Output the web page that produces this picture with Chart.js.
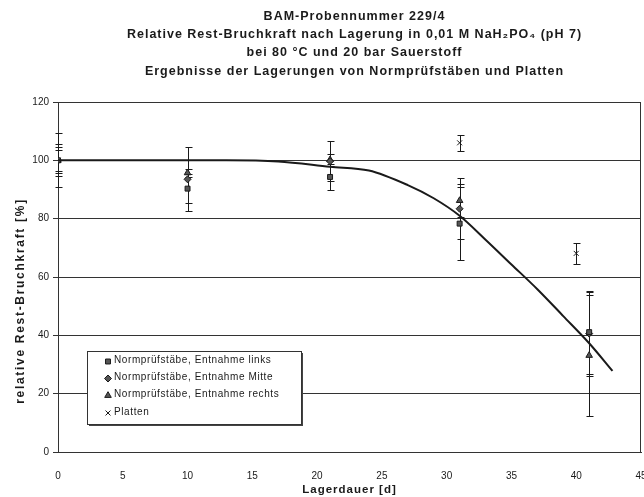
<!DOCTYPE html>
<html lang="de">
<head>
<meta charset="UTF-8">
<title>BAM-Probennummer 229/4</title>
<style>
  html, body { margin: 0; padding: 0; background: #fff; }
  #wrap { position: relative; width: 644px; height: 497px; }
</style>
</head>
<body>
<div id="wrap"><canvas id="chart"></canvas></div>

<script src="https://cdn.jsdelivr.net/npm/chart.js"></script>
<script>
  // Titelzeilen
  const titleLines = [
    'BAM-Probennummer 229/4',
    'Relative Rest-Bruchkraft nach Lagerung in 0,01 M NaH\u2082PO\u2084 (pH 7)',
    'bei 80 °C und 20 bar Sauerstoff',
    'Ergebnisse der Lagerungen von Normprüfstäben und Platten'
  ];
  const xTitle = 'Lagerdauer [d]';
  const yTitle = 'relative Rest-Bruchkraft [%]';

  // Messwerte (Tage, Mittelwert, Streuung +/-)
  const daysLinks = [0, 10, 21, 31, 41];
  const valLinks  = [100, 90.3, 94.3, 78.3, 41.1];
  const errLinks  = [9.3, 4.9, 4.6, 12.5, 14.2];

  const daysMitte = [0, 10, 21, 31, 41];
  const valMitte  = [100, 93.5, 99.7, 83.4, 40.6];
  const errMitte  = [5.5, 11, 6.8, 10.5, 14.4];

  const daysRechts = [0, 10, 21, 31, 41];
  const valRechts  = [100, 95.7, 100.2, 86.2, 33.1];
  const errRechts  = [4.5, 1.5, 2, 5.7, 20.8];

  const daysPlatten = [0, 31, 40];
  const valPlatten  = [100, 106, 68.1];
  const errPlatten  = [3.6, 2.7, 3.6];

  // Ausgleichskurve
  const fitDays = [0, 5, 10, 13, 17, 21, 24, 27, 29, 31, 33, 35, 37, 39, 41, 42.8];
  const fitVals = [100, 100, 100, 100, 99.6, 97.8, 96.5, 91.5, 87, 81, 72.8, 64.3, 55.8, 46.6, 37.3, 27.8];

  const xTicks = [0, 5, 10, 15, 20, 25, 30, 35, 40, 45];
  const yTicks = [0, 20, 40, 60, 80, 100, 120];

  const legendLabels = [
    'Normprüfstäbe, Entnahme links',
    'Normprüfstäbe, Entnahme Mitte',
    'Normprüfstäbe, Entnahme rechts',
    'Platten'
  ];

  const FONT = '"Liberation Sans", Arial, sans-serif';
  const INK = '#1a1a1a';

  const toPts = (xs, ys) => xs.map((x, i) => ({ x, y: ys[i] }));

  function seriesSet(label, xs, ys, errs, style, radius) {
    return {
      type: 'scatter',
      label,
      data: toPts(xs, ys),
      err: errs,
      pointStyle: style,
      pointRadius: radius,
      pointHoverRadius: radius,
      pointBackgroundColor: '#555',
      pointBorderColor: INK,
      pointBorderWidth: 1
    };
  }

  // Fehlerbalken über die Skalen zeichnen
  const errorBars = {
    id: 'errorBars',
    beforeDatasetsDraw(chart) {
      const { ctx, scales: { x, y } } = chart;
      ctx.save();
      ctx.strokeStyle = INK;
      ctx.lineWidth = 1;
      chart.data.datasets.forEach(ds => {
        if (!ds.err) return;
        ds.data.forEach((p, i) => {
          const px = Math.round(x.getPixelForValue(p.x)) + 0.5;
          const top = Math.round(y.getPixelForValue(p.y + ds.err[i])) + 0.5;
          const bot = Math.round(y.getPixelForValue(p.y - ds.err[i])) + 0.5;
          ctx.beginPath();
          ctx.moveTo(px, top); ctx.lineTo(px, bot);
          ctx.moveTo(px - 3, top); ctx.lineTo(px + 4, top);
          ctx.moveTo(px - 3, bot); ctx.lineTo(px + 4, bot);
          ctx.stroke();
        });
      });
      ctx.restore();
    }
  };

  // Titel, Achsentitel, Rahmen und Legende
  const decor = {
    id: 'decor',
    afterDraw(chart) {
      const { ctx, chartArea: a } = chart;
      const cx = (a.left + a.right) / 2;
      ctx.save();
      ctx.fillStyle = INK;
      ctx.textAlign = 'center';
      ctx.textBaseline = 'middle';
      ctx.font = 'bold 12.5px ' + FONT;
      ctx.letterSpacing = '1px';
      [17, 35, 53, 72].forEach((ty, i) => ctx.fillText(titleLines[i], cx + 5, ty));

      ctx.font = 'bold 11.5px ' + FONT;
      ctx.letterSpacing = '1px';
      ctx.fillText(xTitle, cx, 490);
      ctx.save();
      ctx.translate(21, 301);
      ctx.rotate(-Math.PI / 2);
      ctx.font = 'bold 12px ' + FONT;
      ctx.letterSpacing = '1.7px';
      ctx.fillText(yTitle, 0, 0);
      ctx.restore();
      ctx.letterSpacing = '0px';

      // Rahmen rechts
      ctx.strokeStyle = '#333';
      ctx.lineWidth = 1;
      ctx.beginPath();
      ctx.moveTo(Math.round(a.right) - 0.5, a.top);
      ctx.lineTo(Math.round(a.right) - 0.5, a.bottom);
      ctx.stroke();

      // Legende
      const lx = 87, ly = 351, lw = 214, lh = 73;
      ctx.fillStyle = '#fff';
      ctx.fillRect(lx, ly, lw, lh);
      ctx.strokeRect(lx + 0.5, ly + 0.5, lw, lh);
      ctx.fillStyle = '#444';
      ctx.fillRect(lx + 2, ly + lh + 1, lw, 1);
      ctx.fillRect(lx + lw + 1, ly + 2, 1, lh);

      const sets = chart.data.datasets.filter(d => d.err);
      ctx.textAlign = 'left';
      ctx.font = '10px ' + FONT;
      ctx.letterSpacing = '0.6px';
      [360.5, 377.5, 394.5, 412].forEach((ry, i) => {
        const ds = sets[i];
        ctx.fillStyle = ds.pointBackgroundColor;
        ctx.strokeStyle = ds.pointBorderColor;
        ctx.lineWidth = 1;
        Chart.helpers.drawPoint(ctx, { pointStyle: ds.pointStyle, radius: ds.pointRadius, borderWidth: 1, rotation: 0 }, 108, ry + 1);
        ctx.fillStyle = INK;
        ctx.fillText(legendLabels[i], 114, ry);
      });
      ctx.restore();
    }
  };

  new Chart(document.getElementById('chart'), {
    data: {
      datasets: [
        {
          type: 'line',
          label: 'Ausgleich',
          data: toPts(fitDays, fitVals),
          borderColor: INK,
          borderWidth: 2,
          pointRadius: 0,
          pointHoverRadius: 0,
          cubicInterpolationMode: 'monotone',
          fill: false
        },
        seriesSet(legendLabels[0], daysLinks, valLinks, errLinks, 'rect', 3.5),
        seriesSet(legendLabels[1], daysMitte, valMitte, errMitte, 'rectRot', 3.5),
        seriesSet(legendLabels[2], daysRechts, valRechts, errRechts, 'triangle', 3.8),
        seriesSet(legendLabels[3], daysPlatten, valPlatten, errPlatten, 'crossRot', 3.5)
      ]
    },
    options: {
      responsive: true,
      maintainAspectRatio: false,
      animation: false,
      layout: { autoPadding: false, padding: { top: 102, right: 3, left: 0, bottom: 0 } },
      plugins: {
        legend: { display: false },
        title: { display: false },
        tooltip: { enabled: false }
      },
      scales: {
        x: {
          type: 'linear',
          min: 0, max: 45,
          afterBuildTicks: s => { s.ticks = xTicks.map(v => ({ value: v })); },
          afterFit: s => { s.height = 45; s.paddingLeft = 0; s.paddingRight = 0; },
          grid: { display: false, drawTicks: false },
          border: { display: true, color: '#333', width: 1 },
          ticks: { padding: 18, color: INK, font: { family: FONT, size: 10 }, maxRotation: 0 }
        },
        y: {
          min: 0, max: 120,
          afterBuildTicks: s => { s.ticks = yTicks.map(v => ({ value: v })); },
          afterFit: s => { s.width = 58; },
          grid: { color: '#333', lineWidth: 1, tickLength: 5, drawTicks: true },
          border: { display: true, color: '#333', width: 1 },
          ticks: { padding: 4, color: INK, font: { family: FONT, size: 10 } }
        }
      }
    },
    plugins: [errorBars, decor]
  });
</script>
</body>
</html>
